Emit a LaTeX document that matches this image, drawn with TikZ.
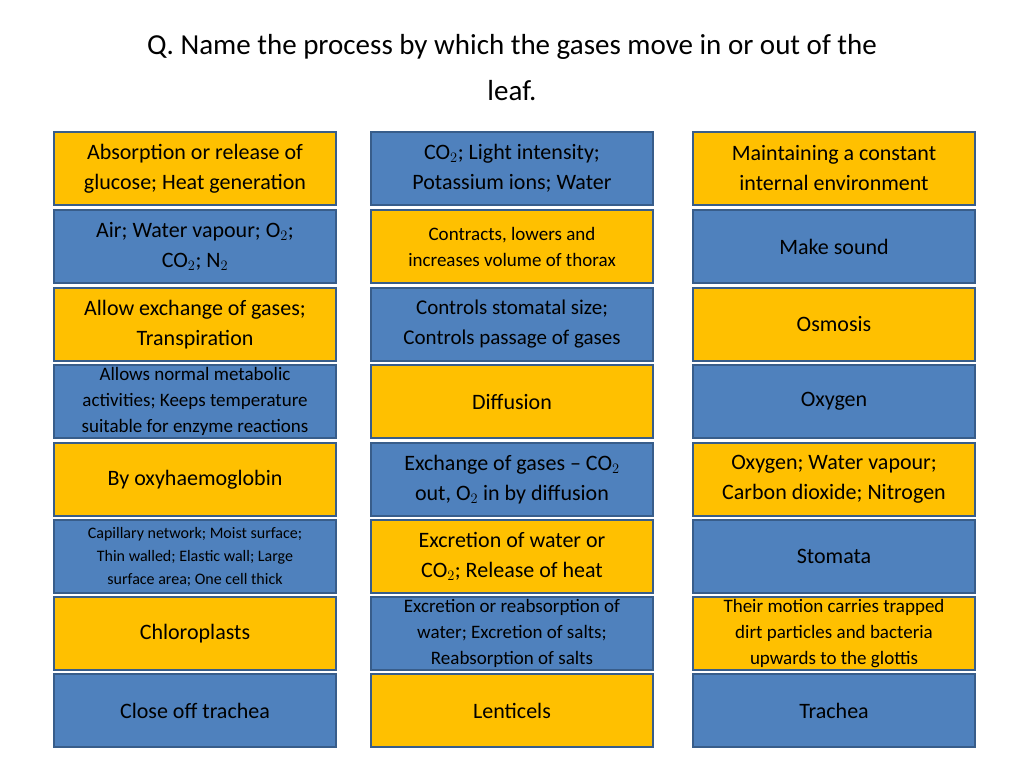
\documentclass[tikz,border=0pt]{standalone}
\usepackage{fontspec}
\setmainfont{Carlito}
\definecolor{boxorange}{HTML}{FFC000}
\definecolor{boxblue}{HTML}{4F81BD}
\definecolor{boxedge}{HTML}{385D8A}
\tikzset{
	card/.style={draw=boxedge,line width=2pt,minimum width=282pt,minimum height=73pt,
		inner sep=2pt,align=center,font=\fontsize{22}{30}\selectfont,anchor=north west},
	org/.style={card,fill=boxorange},
	blu/.style={card,fill=boxblue},
	mid/.style={font=\fontsize{19}{26}\selectfont},
	tiny/.style={font=\fontsize{16}{23}\selectfont}
}
\begin{document}
\begin{tikzpicture}[x=1pt,y=-1pt]
	\useasboundingbox (0,0) rectangle (1024,768);
	\node[font=\fontsize{29}{46}\selectfont,align=center] (title) at (512,68)
		{Q. Name the process by which the gases move in or out of the\\leaf.};
	
	% left column
	\node[org] (l1) at (53,131) {Absorption or release of\\glucose; Heat generation};
	\node[blu] (l2) at (53,209) {Air; Water vapour; O$_2$;\\CO$_2$; N$_2$};
	\node[org] (l3) at (53,287) {Allow exchange of gases;\\Transpiration};
	\node[blu,mid] (l4) at (53,364) {Allows normal metabolic\\activities; Keeps temperature\\suitable for enzyme reactions};
	\node[org] (l5) at (53,442) {By oxyhaemoglobin};
	\node[blu,tiny] (l6) at (53,519) {Capillary network; Moist surface;\\Thin walled; Elastic wall; Large\\surface area; One cell thick};
	\node[org] (l7) at (53,596) {Chloroplasts};
	\node[blu] (l8) at (53,673) {Close off trachea};
	
	% middle column
	\node[blu] (m1) at (370,131) {CO$_2$; Light intensity;\\Potassium ions; Water};
	\node[org,mid] (m2) at (370,209) {Contracts, lowers and\\increases volume of thorax};
	\node[blu,font=\fontsize{21}{30}\selectfont] (m3) at (370,287) {Controls stomatal size;\\Controls passage of gases};
	\node[org] (m4) at (370,364) {Diffusion};
	\node[blu] (m5) at (370,442) {Exchange of gases -- CO$_2$\\out, O$_2$ in by diffusion};
	\node[org] (m6) at (370,519) {Excretion of water or\\CO$_2$; Release of heat};
	\node[blu,mid] (m7) at (370,596) {Excretion or reabsorption of\\water; Excretion of salts;\\Reabsorption of salts};
	\node[org] (m8) at (370,673) {Lenticels};
	
	% right column
	\node[org] (r1) at (692,131) {Maintaining a constant\\internal environment};
	\node[blu] (r2) at (692,209) {Make sound};
	\node[org] (r3) at (692,287) {Osmosis};
	\node[blu] (r4) at (692,364) {Oxygen};
	\node[org] (r5) at (692,442) {Oxygen; Water vapour;\\Carbon dioxide; Nitrogen};
	\node[blu] (r6) at (692,519) {Stomata};
	\node[org,mid] (r7) at (692,596) {Their motion carries trapped\\dirt particles and bacteria\\upwards to the glottis};
	\node[blu] (r8) at (692,673) {Trachea};
\end{tikzpicture}
\end{document}
